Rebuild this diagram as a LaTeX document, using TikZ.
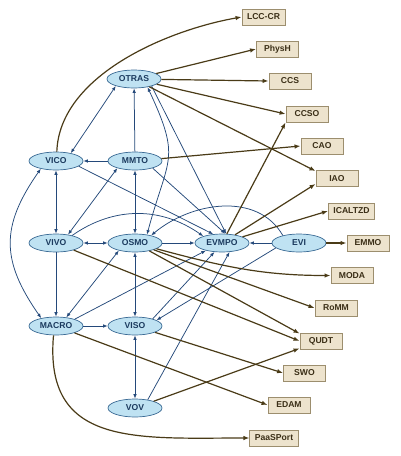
\documentclass[tikz,border=0pt]{standalone}
\usepackage{fontspec}
\setmainfont{Liberation Sans}
\usetikzlibrary{shapes.geometric,arrows.meta}
\definecolor{efill}{HTML}{BFE2F2}
\definecolor{edraw}{HTML}{3A6A94}
\definecolor{etext}{HTML}{1B3A5E}
\definecolor{bfill}{HTML}{EDE3CD}
\definecolor{bdraw}{HTML}{9C8E6E}
\definecolor{btext}{HTML}{3B2F17}
\definecolor{bluec}{HTML}{24497A}
\definecolor{brownc}{HTML}{4A3B17}
\begin{document}
\begin{tikzpicture}[x=1pt,y=1pt,
  onto/.style={ellipse, draw=edraw, fill=efill, line width=0.7pt, minimum width=54pt, minimum height=18pt, inner sep=0pt, text=etext, font=\fontsize{8.6}{10}\selectfont\bfseries},
  box/.style={rectangle, draw=bdraw, fill=bfill, line width=0.9pt, minimum width=42pt, minimum height=16pt, inner xsep=5pt, inner ysep=0pt, text=btext, font=\fontsize{8.6}{10}\selectfont\bfseries},
  bl/.style={draw=bluec, line width=0.75pt, -{Latex[length=4.5pt,width=3.5pt]}},
  bb/.style={draw=bluec, line width=0.75pt, {Latex[length=4.5pt,width=3.5pt]}-{Latex[length=4.5pt,width=3.5pt]}},
  br/.style={draw=brownc, line width=1.2pt, -{Latex[length=6pt,width=4.5pt]}},
]
\useasboundingbox (0,0) rectangle (401,-456);
% ontology nodes
\node[onto] (OTRAS) at (134,-79) {OTRAS};
\node[onto] (VICO) at (56,-161) {VICO};
\node[onto] (MMTO) at (135,-161) {MMTO};
\node[onto] (VIVO) at (56,-243) {VIVO};
\node[onto] (OSMO) at (135,-243) {OSMO};
\node[onto] (EVMPO) at (222,-243) {EVMPO};
\node[onto] (EVI) at (299,-243) {EVI};
\node[onto] (MACRO) at (56,-326) {MACRO};
\node[onto] (VISO) at (135,-326) {VISO};
\node[onto] (VOV) at (135,-408) {VOV};
% boxes
\node[box] (LCC) at (263.5,-17) {LCC-CR};
\node[box] (PhysH) at (277.5,-49) {PhysH};
\node[box] (CCS) at (290,-81) {CCS};
\node[box] (CCSO) at (307,-114) {CCSO};
\node[box] (CAO) at (322,-146) {CAO};
\node[box] (IAO) at (337,-178.5) {IAO};
\node[box] (ICALTZD) at (351.5,-211) {ICALTZD};
\node[box] (EMMO) at (368,-243) {EMMO};
\node[box] (MODA) at (352,-275.5) {MODA};
\node[box] (RoMM) at (336,-308) {RoMM};
\node[box] (QUDT) at (321,-341) {QUDT};
\node[box] (SWO) at (304.5,-373) {SWO};
\node[box] (EDAM) at (289,-405) {EDAM};
\node[box] (PaaSPort) at (274,-438) {PaaSPort};
% blue connectors
\draw[bb] (VICO.28) -- (OTRAS.201);
\draw[bl] (MMTO) -- (OTRAS);
\draw[bb] (OTRAS.-31) to[out=-65,in=75,looseness=1.4] (OSMO.35);
\draw[bl] (OTRAS.-22) -- (EVMPO.66);
\draw[bl] (MMTO) -- (VICO);
\draw[bb] (VICO) -- (VIVO);
\draw[bl] (VICO.-13) -- (EVMPO.135);
\draw[bb] (VICO.207) to[out=235,in=125,looseness=1.2] (MACRO.152);
\draw[bb] (VIVO.35) -- (MMTO.-158);
\draw[bb] (MMTO) -- (OSMO);
\draw[bl] (MMTO.-22) -- (EVMPO.70);
\draw[bb] (VIVO) -- (OSMO);
\draw[bl] (VIVO.25) to[out=35,in=145] (EVMPO.160);
\draw[bl] (VIVO) -- (MACRO);
\draw[bl] (OSMO) -- (EVMPO);
\draw[bb] (OSMO) -- (VISO);
\draw[bb] (MACRO.40) -- (OSMO.-155);
\draw[bl] (EVI) -- (EVMPO);
\draw[bl] (EVI.155) to[out=120,in=40] (OSMO.25);
\draw[bl] (EVI.-168) -- (VISO.15);
\draw[bl] (MACRO) -- (VISO);
\draw[bl] (MACRO.20) -- (EVMPO.-155);
\draw[bl] (VISO.22) -- (EVMPO.-130);
\draw[bb] (VISO) -- (VOV);
\draw[bl] (VOV.33) -- (EVMPO.-50);
% brown connectors
\draw[br] (VICO.85) to[out=88,in=190,looseness=0.85] (LCC.west);
\draw[br] (OTRAS) -- (PhysH.west);
\draw[br] (OTRAS) -- (CCS.west);
\draw[br] (OTRAS) -- (CCSO.west);
\draw[br] (OTRAS) -- ([yshift=-1pt]IAO.north west);
\draw[br] (MMTO) -- (CAO.west);
\draw[br] (EVMPO) -- (CCSO.south west);
\draw[br] (EVMPO) -- ([yshift=3pt]IAO.south west);
\draw[br] (EVMPO) -- (ICALTZD.west);
\draw[br] (EVI) -- (EMMO);
\draw[br] (OSMO.-15) to[out=-15,in=180] (MODA.west);
\draw[br] (OSMO) -- (RoMM.west);
\draw[br] (OSMO) -- ([yshift=-1pt]QUDT.north west);
\draw[br] (VIVO) -- (QUDT.west);
\draw[br] (VOV) -- ([yshift=1pt]QUDT.south west);
\draw[br] (VISO) -- (SWO.west);
\draw[br] (MACRO) -- (EDAM.west);
\draw[br] (MACRO.-105) to[out=-95,in=180,looseness=1.3] (PaaSPort.west);
\end{tikzpicture}
\end{document}
